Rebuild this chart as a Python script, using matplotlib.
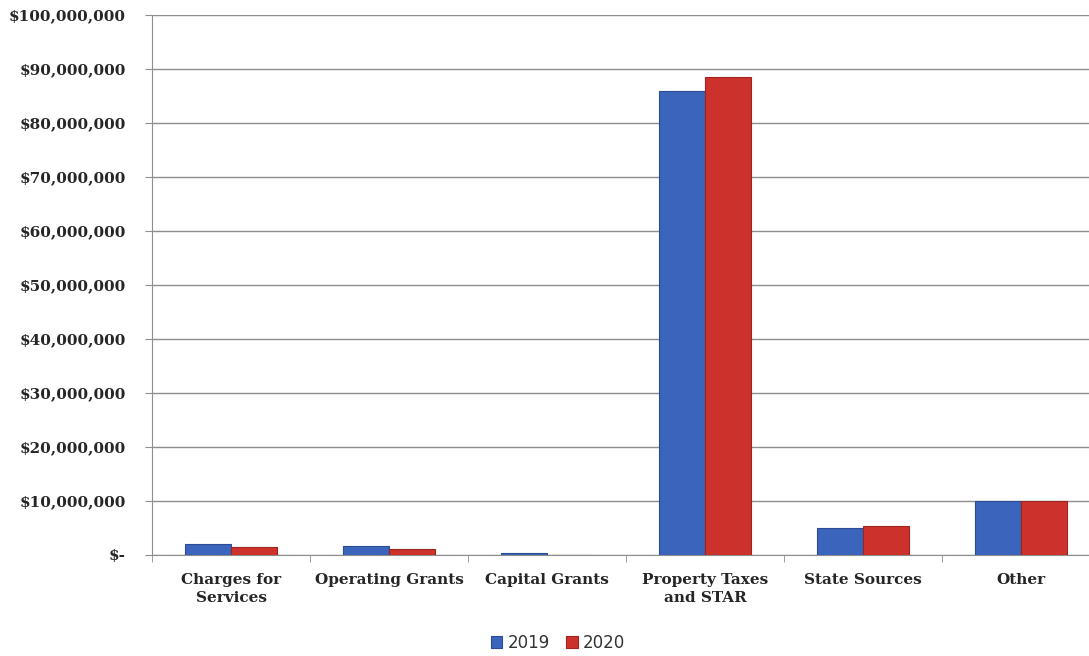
import matplotlib
matplotlib.use("Agg")
import matplotlib.pyplot as plt
from matplotlib.ticker import FuncFormatter, MultipleLocator
import numpy as np

categories = ["Charges for\nServices", "Operating Grants", "Capital Grants",
              "Property Taxes\nand STAR", "State Sources", "Other"]
years = ["2019", "2020"]
values_2019 = [2.0e6, 1.7e6, 0.3e6, 85.9e6, 5.0e6, 10.0e6]
values_2020 = [1.5e6, 1.2e6, 0.0, 88.5e6, 5.4e6, 10.0e6]

blue = "#3B64BC"
red = "#CC322B"

fig = plt.figure(figsize=(10.89, 6.56), dpi=100)
# slots are 158 px wide; the right edge of the plot runs a little past the image
ax = fig.add_axes([152 / 1089, 101 / 656, 948 / 1089, 540 / 656])

x = np.arange(len(categories))
w = 0.29
ax.bar(x - w / 2, values_2019, w, color=blue, edgecolor="#2A4C95", linewidth=0.8,
       label=years[0], zorder=3)
ax.bar(x + w / 2, values_2020, w, color=red, edgecolor="#9E2420", linewidth=0.8,
       label=years[1], zorder=3)

ax.set_xlim(-0.5, len(categories) - 0.5)
ax.set_ylim(0, 100e6)
ax.yaxis.set_major_locator(MultipleLocator(10e6))


def money(v, _):
    if v == 0:
        return "$-"
    return f"${v:,.0f}"


ax.yaxis.set_major_formatter(FuncFormatter(money))
ax.grid(axis="y", color="#8E8E8E", linewidth=1, zorder=0)

for s in ["top", "right"]:
    ax.spines[s].set_visible(False)
for s in ["left", "bottom"]:
    ax.spines[s].set_color("#8E8E8E")

ax.set_xticks(x)
ax.set_xticklabels(categories, fontfamily="DejaVu Serif", fontweight="bold",
                   fontsize=11, color="#262626", linespacing=1.4)
ax.set_xticks(np.arange(len(categories) + 1) - 0.5, minor=True)
ax.tick_params(axis="x", which="major", length=0, pad=13)
ax.tick_params(axis="x", which="minor", length=5, color="#8E8E8E")
ax.tick_params(axis="y", length=5, color="#8E8E8E", pad=14)
for lab in ax.get_yticklabels():
    lab.set_fontfamily("DejaVu Serif")
    lab.set_fontweight("bold")
    lab.set_fontsize(11)
    lab.set_color("#262626")

fig.legend(loc="center", bbox_to_anchor=(558 / 1089, 1 - 643 / 656), ncol=2,
           frameon=False, fontsize=12, handlelength=0.7, handleheight=0.7,
           handletextpad=0.3, columnspacing=1.0, labelcolor="#333333")

fig.savefig("out.png", dpi=100)
